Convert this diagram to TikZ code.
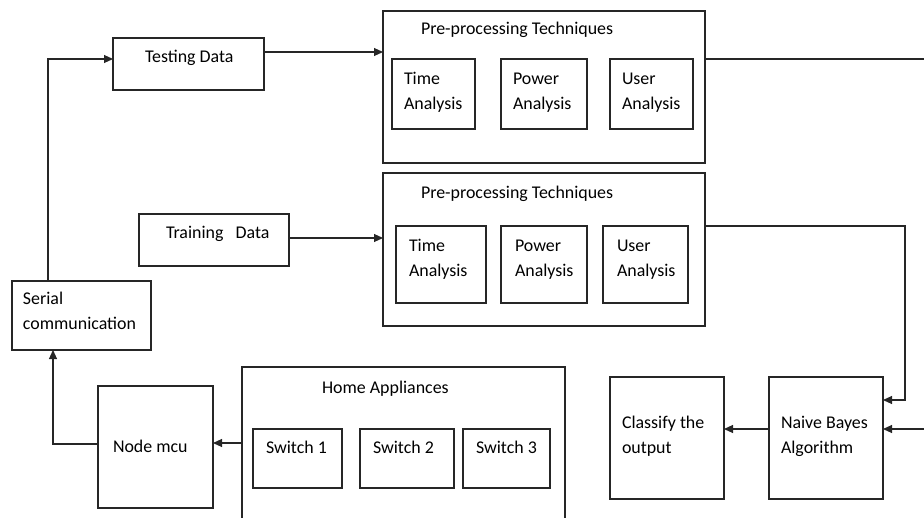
\documentclass[tikz,border=0pt]{standalone}
\usepackage{fontspec}
\setmainfont{Carlito}
\usetikzlibrary{arrows.meta}
\begin{document}
\begin{tikzpicture}[x=1pt,y=-1pt,
  box/.style={draw=black!85, line width=1.1pt, anchor=north west, inner sep=0pt, outer sep=0pt},
  txt/.style={anchor=base west, inner sep=0pt, outer sep=0pt, align=left,
              font=\fontsize{17.9}{25}\selectfont, text=black},
  conn/.style={draw=black!85, line width=1.1pt},
  arr/.style={conn, -{Triangle[length=9pt,width=8pt]}}]
\useasboundingbox (0,0) rectangle (924,517);

% boxes
\node[box, minimum width=151, minimum height=52] (test) at (113,38) {};
\node[box, minimum width=150, minimum height=52] (train) at (139,214) {};
\node[box, minimum width=139, minimum height=69] (serial) at (12,281) {};
\node[box, minimum width=115, minimum height=122] (mcu) at (98,386) {};
\node[box, minimum width=323, minimum height=170] (home) at (242,367) {};
\node[box, minimum width=89, minimum height=59] (sw1) at (253,429) {};
\node[box, minimum width=94, minimum height=59] (sw2) at (360,429) {};
\node[box, minimum width=87, minimum height=59] (sw3) at (463,429) {};
\node[box, minimum width=322, minimum height=152] (pp1) at (383,11) {};
\node[box, minimum width=83, minimum height=70] (ta1) at (392,59) {};
\node[box, minimum width=86, minimum height=70] (pa1) at (501,59) {};
\node[box, minimum width=83, minimum height=70] (ua1) at (610,59) {};
\node[box, minimum width=322, minimum height=153] (pp2) at (383,173) {};
\node[box, minimum width=90, minimum height=77] (ta2) at (396,226) {};
\node[box, minimum width=86, minimum height=77] (pa2) at (501,226) {};
\node[box, minimum width=85, minimum height=77] (ua2) at (603,226) {};
\node[box, minimum width=114, minimum height=122] (cls) at (610,377) {};
\node[box, minimum width=114, minimum height=122] (nb) at (769,377) {};

% texts (multi-line nodes are placed at the baseline of their last line)
\node[txt] (ttest) at (145,62) {Testing Data};
\node[txt] (ttrain) at (166,238) {Training\ \ \ Data};
\node[txt] (tserial) at (23,329) {Serial\\communication};
\node[txt] (tmcu) at (113,452) {Node mcu};
\node[txt] (thome) at (322,393) {Home Appliances};
\node[txt] (tsw1) at (266,453) {Switch 1};
\node[txt] (tsw2) at (373,453) {Switch 2};
\node[txt] (tsw3) at (476,453) {Switch 3};
\node[txt] (tpp1) at (421,34) {Pre-processing Techniques};
\node[txt] (tta1) at (404,109) {Time\\Analysis};
\node[txt] (tpa1) at (513,109) {Power\\Analysis};
\node[txt] (tua1) at (622,109) {User\\Analysis};
\node[txt] (tpp2) at (421,198) {Pre-processing Techniques};
\node[txt] (tta2) at (409,276) {Time\\Analysis};
\node[txt] (tpa2) at (515,276) {Power\\Analysis};
\node[txt] (tua2) at (617,276) {User\\Analysis};
\node[txt] (tcls) at (622,453) {Classify the\\output};
\node[txt] (tnb) at (781,453) {Naive Bayes\\Algorithm};

% free ends at the right edge
\coordinate (r1) at (924,59);
\coordinate (c2) at (905,226);
\coordinate (r2) at (924,429);

% connectors
\draw[arr] ([xshift=36pt]serial.north west) |- ([yshift=-21pt]test.north west);
\draw[arr] ([yshift=-14pt]test.north east) -- ([yshift=-41pt]pp1.north west);
\draw[arr] ([yshift=-24pt]train.north east) -- ([yshift=-65pt]pp2.north west);
\draw[conn] (r1 -| pp1.east) -- (r1);
\draw[arr] (c2 -| pp2.east) -- (c2) |- ([yshift=-23pt]nb.north east);
\draw[arr] (r2) -- (r2 -| nb.east);
\draw[arr] ([yshift=-52pt]nb.north west) -- ([yshift=-52pt]cls.north east);
\draw[arr] ([yshift=-76pt]home.north west) -- ([yshift=-57pt]mcu.north east);
\draw[arr] ([yshift=-58pt]mcu.north west) -| ([xshift=41pt]serial.south west);
\end{tikzpicture}
\end{document}
